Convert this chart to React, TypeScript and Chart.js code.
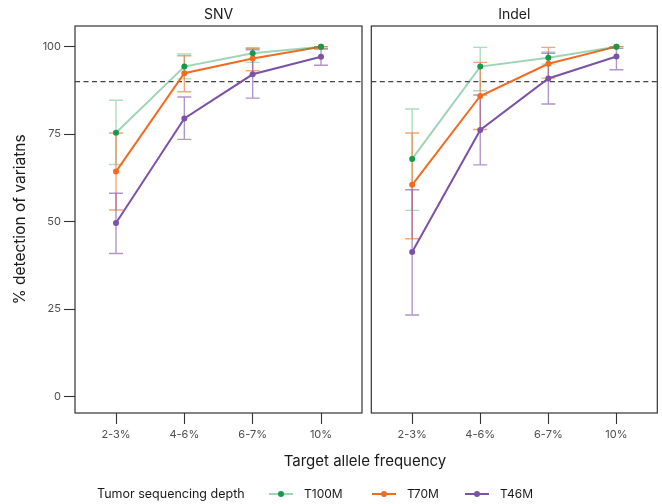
import React, { useEffect, useRef } from "react";
import { Chart, registerables } from "chart.js";

Chart.register(...registerables);

// ---------- data ----------
const categories = ["2-3%", "4-6%", "6-7%", "10%"];
const seriesNames = ["T100M", "T70M", "T46M"];
const yTicks = [0, 25, 50, 75, 100];
const thresholdValue = 90;

// SNV panel
const snvT100M = [75.4, 94.3, 98.1, 100];
const snvT100MLow = [66.3, 90.8, 95.5, 100];
const snvT100MHigh = [84.7, 97.9, 99.5, 100];
const snvT70M = [64.3, 92.4, 96.6, 100];
const snvT70MLow = [53.3, 87.1, 93.1, 99.5];
const snvT70MHigh = [75.3, 97.4, 99.6, 100];
const snvT46M = [49.6, 79.5, 92.1, 97.1];
const snvT46MLow = [40.9, 73.5, 85.3, 94.7];
const snvT46MHigh = [58.1, 85.6, 99.1, 99.3];

// Indel panel
const indelT100M = [67.9, 94.3, 96.8, 100];
const indelT100MLow = [53.2, 87.4, 95.0, 100];
const indelT100MHigh = [82.2, 99.8, 98.5, 100];
const indelT70M = [60.5, 85.9, 95.1, 100];
const indelT70MLow = [45.1, 76.3, 91.0, 100];
const indelT70MHigh = [75.3, 95.5, 99.8, 100];
const indelT46M = [41.3, 76.2, 90.9, 97.2];
const indelT46MLow = [23.3, 66.2, 83.6, 93.4];
const indelT46MHigh = [59.1, 86.2, 98.1, 99.5];

// ---------- styles ----------
const FONT = "Inter, 'Noto Sans', 'DejaVu Sans', sans-serif";
const lineColors = ["rgba(26,152,80,0.42)", "#f26b21", "#7b52a6"];
const pointColors = ["#16994a", "#f26b21", "#7b52a6"];
const errorColors = [
  "rgba(26,152,80,0.35)",
  "rgba(242,107,33,0.6)",
  "rgba(123,82,166,0.6)",
];

type Series = { values: number[]; low: number[]; high: number[] };

function makePanel(
  canvas: HTMLCanvasElement,
  title: string,
  series: Series[],
  showY: boolean,
  padLeft: number,
  padRight: number
) {
  const overlay = {
    id: "overlay-" + title,
    beforeDatasetsDraw(chart: any) {
      const { ctx, chartArea, scales } = chart;
      const x = scales.x;
      const y = scales.y;
      ctx.save();
      // threshold dashed line
      const ty = y.getPixelForValue(thresholdValue);
      ctx.strokeStyle = "#444444";
      ctx.lineWidth = 1.4;
      ctx.setLineDash([5, 3.5]);
      ctx.beginPath();
      ctx.moveTo(chartArea.left, ty);
      ctx.lineTo(chartArea.right, ty);
      ctx.stroke();
      ctx.setLineDash([]);
      // error bars
      series.forEach((s, si) => {
        ctx.strokeStyle = errorColors[si];
        ctx.lineWidth = 1.4;
        s.values.forEach((_, i) => {
          const px = x.getPixelForValue(i);
          const lo = y.getPixelForValue(s.low[i]);
          const hi = y.getPixelForValue(s.high[i]);
          const hw = 7;
          ctx.beginPath();
          ctx.moveTo(px, lo);
          ctx.lineTo(px, hi);
          ctx.moveTo(px - hw, lo);
          ctx.lineTo(px + hw, lo);
          ctx.moveTo(px - hw, hi);
          ctx.lineTo(px + hw, hi);
          ctx.stroke();
        });
      });
      ctx.restore();
    },
    afterDraw(chart: any) {
      const { ctx, chartArea } = chart;
      ctx.save();
      ctx.strokeStyle = "#333333";
      ctx.lineWidth = 1.2;
      ctx.strokeRect(
        chartArea.left,
        chartArea.top,
        chartArea.right - chartArea.left,
        chartArea.bottom - chartArea.top
      );
      ctx.restore();
    },
  };

  return new Chart(canvas, {
    type: "line",
    data: {
      datasets: series.map((s, si) => ({
        label: seriesNames[si],
        data: s.values.map((v, i) => ({ x: i, y: v })),
        borderColor: lineColors[si],
        backgroundColor: pointColors[si],
        pointBackgroundColor: pointColors[si],
        pointBorderColor: pointColors[si],
        pointBorderWidth: 0,
        pointRadius: 3,
        borderWidth: 2,
        tension: 0,
      })),
    },
    options: {
      animation: false,
      responsive: false,
      maintainAspectRatio: false,
      layout: { padding: { left: padLeft, right: padRight, top: 0, bottom: 0 } },
      plugins: {
        legend: { display: false },
        tooltip: { enabled: false },
        title: {
          display: true,
          text: title,
          fullSize: false,
          color: "#1a1a1a",
          font: { family: FONT, size: 14, weight: "normal" },
          padding: { top: 6, bottom: 3.2 },
        },
      },
      scales: {
        x: {
          type: "linear",
          min: -0.6,
          max: 3.6,
          afterBuildTicks: (s: any) => {
            s.ticks = categories.map((_, i) => ({ value: i }));
          },
          ticks: {
            callback: (v: any) => categories[v as number] ?? "",
            color: "#4d4d4d",
            font: { family: FONT, size: 11 },
            padding: 4,
            autoSkip: false,
            maxRotation: 0,
          },
          grid: {
            display: true,
            drawOnChartArea: false,
            tickLength: 11,
            tickColor: "#333333",
            tickWidth: 1.1,
          },
          border: { display: false },
          afterFit: (s: any) => {
            s.height = 91;
          },
        },
        y: {
          display: showY,
          min: -4.7,
          max: 105.9,
          afterBuildTicks: (s: any) => {
            s.ticks = yTicks.map((v) => ({ value: v }));
          },
          ticks: {
            color: "#4d4d4d",
            font: { family: FONT, size: 11 },
            padding: 3,
          },
          grid: {
            display: true,
            drawOnChartArea: false,
            tickLength: 11,
            tickColor: "#333333",
            tickWidth: 1.1,
          },
          border: { display: false },
          title: {
            display: true,
            text: "% detection of variatns",
            color: "#1a1a1a",
            font: { family: FONT, size: 15.5 },
            padding: { top: 11.5, bottom: 0 },
          },
          afterFit: (s: any) => {
            s.width = showY ? 75 : 0;
          },
        },
      },
    } as any,
    plugins: [overlay],
  });
}

export default function App() {
  const snvRef = useRef<HTMLCanvasElement>(null);
  const indelRef = useRef<HTMLCanvasElement>(null);

  useEffect(() => {
    const snv = makePanel(
      snvRef.current!,
      "SNV",
      [
        { values: snvT100M, low: snvT100MLow, high: snvT100MHigh },
        { values: snvT70M, low: snvT70MLow, high: snvT70MHigh },
        { values: snvT46M, low: snvT46MLow, high: snvT46MHigh },
      ],
      true,
      0,
      3.5
    );
    const indel = makePanel(
      indelRef.current!,
      "Indel",
      [
        { values: indelT100M, low: indelT100MLow, high: indelT100MHigh },
        { values: indelT70M, low: indelT70MLow, high: indelT70MHigh },
        { values: indelT46M, low: indelT46MLow, high: indelT46MHigh },
      ],
      false,
      5.3,
      4.7
    );
    return () => {
      snv.destroy();
      indel.destroy();
    };
  }, []);

  const dotCenters = [281, 384, 477];

  return (
    <div
      style={{
        position: "absolute",
        left: 0,
        top: 0,
        width: 662,
        height: 504,
        background: "#ffffff",
        fontFamily: FONT,
        color: "#1a1a1a",
        overflow: "hidden",
      }}
    >
      <canvas
        ref={snvRef}
        width={366}
        height={504}
        style={{ position: "absolute", left: 0, top: 0, width: 366, height: 504 }}
      />
      <canvas
        ref={indelRef}
        width={296}
        height={504}
        style={{ position: "absolute", left: 366, top: 0, width: 296, height: 504 }}
      />
      <div
        style={{
          position: "absolute",
          left: 0,
          width: 730,
          top: 451,
          textAlign: "center",
          fontSize: 15,
          lineHeight: "20px",
        }}
      >
        Target allele frequency
      </div>
      <div
        style={{
          position: "absolute",
          left: 97,
          top: 485,
          fontSize: 12.5,
          lineHeight: "18px",
          whiteSpace: "nowrap",
        }}
      >
        Tumor sequencing depth
      </div>
      {seriesNames.map((name, i) => (
        <React.Fragment key={name}>
          <div
            style={{
              position: "absolute",
              left: dotCenters[i] - 12,
              top: 493,
              width: 24,
              height: 2,
              background: lineColors[i],
            }}
          />
          <div
            style={{
              position: "absolute",
              left: dotCenters[i] - 3,
              top: 491,
              width: 6,
              height: 6,
              borderRadius: "50%",
              background: pointColors[i],
            }}
          />
          <div
            style={{
              position: "absolute",
              left: dotCenters[i] + 23,
              top: 486,
              fontSize: 12,
              lineHeight: "16px",
              whiteSpace: "nowrap",
            }}
          >
            {name}
          </div>
        </React.Fragment>
      ))}
    </div>
  );
}
